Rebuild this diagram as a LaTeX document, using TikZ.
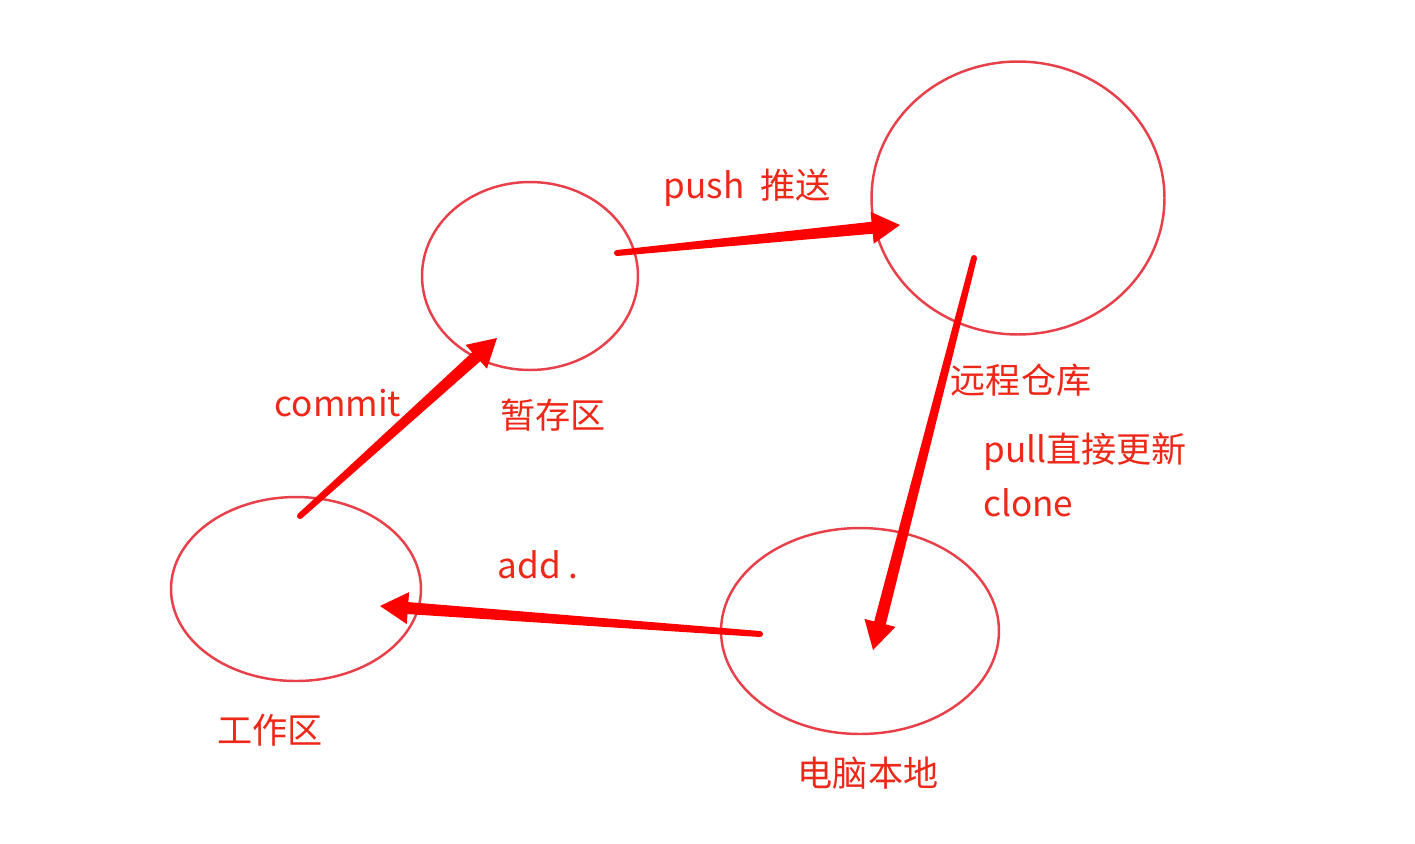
\documentclass[tikz,border=0pt]{standalone}
\usepackage{fontspec}
\setmainfont{Noto Sans CJK SC}
\usetikzlibrary{calc}
\usetikzlibrary{shapes.geometric}

\definecolor{ringred}{RGB}{232,64,74}
\definecolor{textred}{RGB}{238,40,24}
\definecolor{arrowred}{RGB}{255,0,0}

% tapered arrow from #1 to #2
\newcommand{\taperarrow}[2]{%
  \coordinate (h) at ($(#2)!0.56cm!(#1)$);
  \fill[arrowred] ($(#1)!0.06cm!90:(#2)$) -- ($(h)!0.12cm!-90:(#1)$)
    -- ($(h)!0.32cm!-90:(#1)$) -- (#2) -- ($(h)!0.32cm!90:(#1)$)
    -- ($(h)!0.12cm!90:(#1)$) -- ($(#1)!0.06cm!-90:(#2)$) -- cycle;
  \fill[arrowred] (#1) circle (0.06cm);
}

\begin{document}
\begin{tikzpicture}[x=0.02cm, y=-0.02cm]
    \tikzset{ring/.style = {shape=ellipse, draw=ringred, line width=1.4pt, inner sep=0pt}}
    \tikzset{label/.style = {text=textred, inner sep=0pt, font=\fontsize{20}{24}\selectfont}}

    \useasboundingbox (0,0) rectangle (1415,843);

    % areas
    \node[ring, minimum width=4.32cm, minimum height=3.76cm] (stage) at (530,276) {};
    \node[ring, minimum width=5.86cm, minimum height=5.46cm] (remote) at (1018,198) {};
    \node[ring, minimum width=5.0cm, minimum height=3.68cm] (work) at (296,589) {};
    \node[ring, minimum width=5.56cm, minimum height=4.12cm] (local) at (860,631) {};

    % labels
    \node[label] (stage label) at (553,415) {暂存区};
    \node[label] (remote label) at (1021,380) {远程仓库};
    \node[label] (work label) at (270,730) {工作区};
    \node[label] (local label) at (868,773) {电脑本地};
    \node[label] (push label) at (747,188) {push\ \ 推送};
    \node[label] (commit label) at (338,403) {commit};
    \node[label] (add label) at (538,565) {add .};
    \node[label, anchor=west] (pull label) at (983,452) {pull直接更新};
    \node[label, anchor=west] (clone label) at (983,503) {clone};

    % arrow ends
    \coordinate (commit from) at (300,516);
    \coordinate (commit to) at (497,338);
    \coordinate (push from) at (617,253);
    \coordinate (push to) at (900,225);
    \coordinate (pull from) at (974,258);
    \coordinate (pull to) at (873,650);
    \coordinate (add from) at (760,634);
    \coordinate (add to) at (380,606);

    % arrows
    \taperarrow{commit from}{commit to}
    \taperarrow{push from}{push to}
    \taperarrow{pull from}{pull to}
    \taperarrow{add from}{add to}
\end{tikzpicture}
\end{document}
